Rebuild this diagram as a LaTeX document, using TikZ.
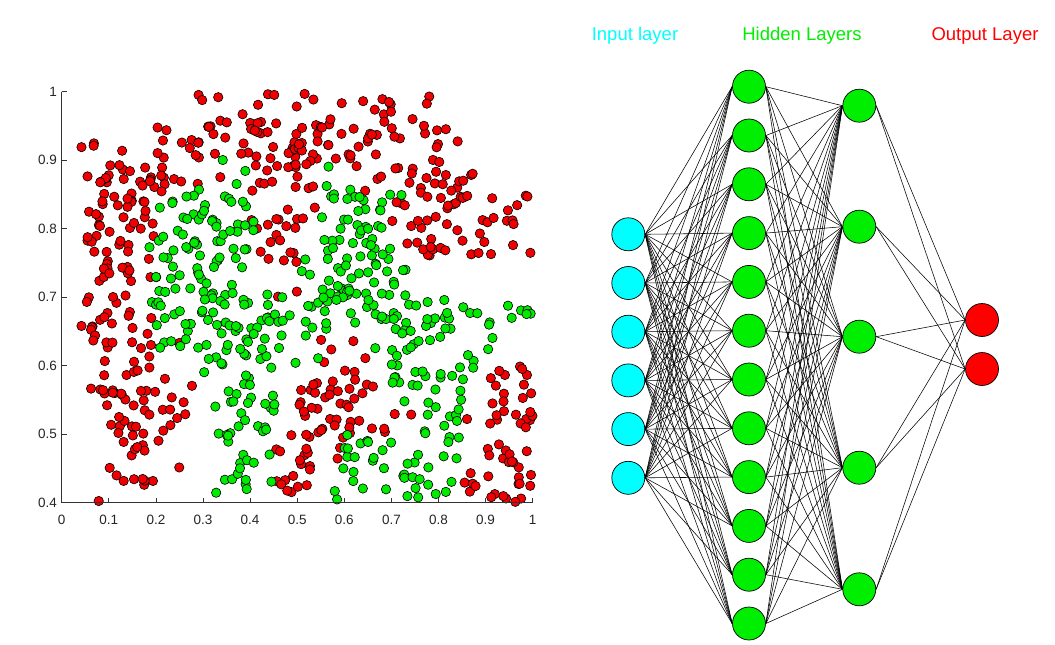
\documentclass[tikz,border=0pt]{standalone}
\usepackage{fontspec}
\setmainfont{Liberation Sans}
\usetikzlibrary{positioning}
\definecolor{nncyan}{RGB}{0,255,255}
\definecolor{nngreen}{RGB}{0,238,0}
\definecolor{nnred}{RGB}{255,0,0}
\definecolor{ptred}{RGB}{240,0,0}
\definecolor{ptgreen}{RGB}{0,235,0}
\tikzset{
  neuron/.style={circle,draw=black,line width=0.7pt,
                 minimum size=33pt,inner sep=0pt},
  link/.style={line width=0.55pt,black},
  reddot/.style={fill=ptred,draw=black,line width=0.6pt},
  greendot/.style={fill=ptgreen,draw=black,line width=0.6pt},
  layertitle/.style={font=\fontsize{18.5}{20}\selectfont,anchor=base},
  ticklab/.style={font=\fontsize{13.5}{15}\selectfont,text=black!85,inner sep=2pt},
}
% dots per cell (0.05 x 0.05), rows from y=1 down to y=0.4
\newcommand\redcounts{
  {0,0,0,0,0,2,2,2,4,3,3,3,1,6,1,2,0,0,0,0},
  {1,2,1,0,4,6,5,3,7,6,8,5,5,4,3,5,2,0,0,0},
  {0,8,5,6,5,2,1,0,5,5,4,0,2,2,4,4,5,3,0,0},
  {0,6,7,5,0,0,0,0,3,5,2,0,0,0,4,4,6,3,4,4},
  {0,6,4,3,0,0,0,0,3,5,0,0,0,0,1,6,3,4,1,2},
  {0,5,6,1,0,0,0,0,0,2,0,0,0,0,0,0,0,0,0,0},
  {1,7,4,2,0,0,0,0,0,0,0,0,0,0,0,0,0,0,0,0},
  {0,4,2,4,1,0,0,0,0,0,0,3,2,0,0,0,0,0,0,0},
  {0,4,6,5,2,1,0,0,0,0,4,4,6,1,0,0,0,0,4,5},
  {0,1,5,5,4,2,0,0,0,0,6,5,5,3,2,0,0,1,5,6},
  {0,0,3,4,2,0,0,0,0,3,7,3,0,0,0,0,0,0,5,4},
  {0,1,2,4,0,0,0,0,0,5,3,0,0,0,0,0,0,4,4,6}}
\newcommand\greencounts{
  {0,0,0,0,0,0,0,0,0,0,0,0,0,0,0,0,0,0,0,0},
  {0,0,0,0,0,0,0,0,0,0,0,0,0,0,0,0,0,0,0,0},
  {0,0,0,0,0,1,1,2,0,0,0,2,1,0,0,0,0,0,0,0},
  {0,0,0,0,3,6,6,5,1,0,0,4,8,5,1,0,0,0,0,0},
  {0,0,0,1,5,6,5,5,1,0,1,6,5,7,0,0,0,0,0,0},
  {0,0,0,0,6,5,5,3,1,0,2,8,8,6,4,0,0,0,0,0},
  {0,0,0,1,5,6,7,6,6,4,4,6,3,5,7,5,5,3,3,4},
  {0,0,0,0,3,3,6,5,4,3,2,0,0,1,7,2,1,2,2,0},
  {0,0,0,0,0,0,1,5,3,0,0,0,0,0,4,4,4,2,0,0},
  {0,0,0,0,0,0,2,6,6,1,0,0,0,0,1,4,5,0,0,0},
  {0,0,0,0,0,0,0,5,2,0,0,0,6,5,2,2,4,0,0,0},
  {0,0,0,0,0,0,2,5,1,0,0,3,3,1,4,4,2,0,0,0}}

\begin{document}
\begin{tikzpicture}[x=1pt,y=-1pt]
  \path[use as bounding box,fill=white] (0,0) rectangle (1055,645);

  \begin{scope}[shift={(61.7,776.5)},x=471pt,y=685pt]
    \pgfmathsetseed{4711}
    \foreach \row [count=\j] in \redcounts {
      \foreach \n [count=\i] in \row {
        \pgfmathtruncatemacro\m{round(\n*1.15)}
        \ifnum\m>0
          \foreach \k in {1,...,\m} {
            \pgfmathsetmacro\px{max(0.042,(\i-1+rnd)*0.05)}
            \pgfmathsetmacro\py{1-(\j-1+rnd)*0.05}
            \path[reddot] (\px,\py) circle[radius=4.7pt];
          }
        \fi
      }
    }
    \foreach \row [count=\j] in \greencounts {
      \foreach \n [count=\i] in \row {
        \pgfmathtruncatemacro\m{round(\n*1.15)}
        \ifnum\m>0
          \foreach \k in {1,...,\m} {
            \pgfmathsetmacro\px{max(0.042,(\i-1+rnd)*0.05)}
            \pgfmathsetmacro\py{1-(\j-1+rnd)*0.05}
            \path[greendot] (\px,\py) circle[radius=4.7pt];
          }
        \fi
      }
    }

    \draw[black!80,line width=0.8pt] (0,1) -- (0,0.4) -- (1,0.4);
    \foreach \t/\lab in {0/0,1/0.1,2/0.2,3/0.3,4/0.4,5/0.5,6/0.6,7/0.7,8/0.8,9/0.9,10/1} {
      \draw[black!80,line width=0.8pt] (\t/10,0.4) -- ++(0,5pt);
      \node[ticklab,anchor=base,yshift=-21.5pt] (xt\t) at (\t/10,0.4) {\lab};
    }
    \foreach \t/\lab in {4/0.4,5/0.5,6/0.6,7/0.7,8/0.8,9/0.9,10/1} {
      \draw[black!80,line width=0.8pt] (0,\t/10) -- ++(5pt,0);
      \node[ticklab,anchor=east,xshift=-2.5pt] (yt\t) at (0,\t/10) {\lab};
    }
  \end{scope}

  \node[layertitle,text=nncyan] (tin) at (635,40.7) {Input layer};
  \node[layertitle,text=nngreen] (thid) at (802,40.7) {Hidden Layers};
  \node[layertitle,text=nnred] (tout) at (985,40.7) {Output Layer};

  \node[neuron,fill=nncyan] (i1) at (628.3,234.3) {};
  \foreach \k [remember=\k as \p (initially 1)] in {2,...,6}
    \node[neuron,fill=nncyan,below=15pt of i\p] (i\k) {};

  \node[neuron,fill=nngreen] (ha1) at (749,86.7) {};
  \foreach \k [remember=\k as \p (initially 1)] in {2,...,12}
    \node[neuron,fill=nngreen,below=15.1pt of ha\p] (ha\k) {};

  \foreach \y [count=\k] in {105.7,226.7,336.7,467.7,589.3}
    \node[neuron,fill=nngreen] (hb\k) at (859.3,\y) {};

  \node[neuron,fill=nnred] (o1) at (982,320) {};
  \node[neuron,fill=nnred,below=15.3pt of o1] (o2) {};

  \foreach \a in {1,...,6}
    \foreach \b in {1,...,12}
      \draw[link] (i\a.east) -- (ha\b.west);
  \foreach \a in {1,...,12}
    \foreach \b in {1,...,5}
      \draw[link] (ha\a.east) -- (hb\b.west);
  \foreach \a in {1,...,5}
    \foreach \b in {1,2}
      \draw[link] (hb\a.east) -- (o\b.west);
\end{tikzpicture}
\end{document}
